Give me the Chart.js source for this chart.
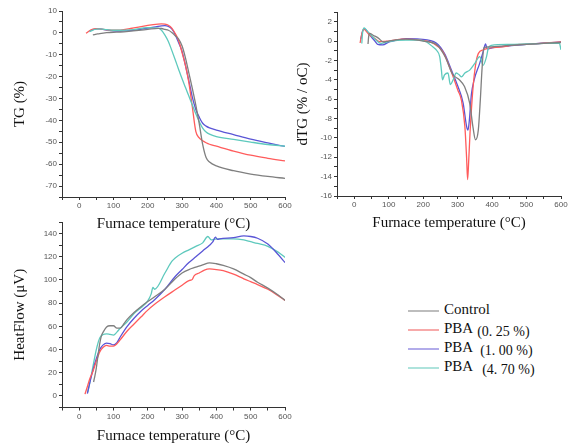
<!DOCTYPE html>
<html>
<head>
<meta charset="utf-8">
<script src="https://cdn.jsdelivr.net/npm/chart.js@4.4.0/dist/chart.umd.min.js"></script>
<style>
  html, body { margin: 0; padding: 0; background: #fff; overflow: hidden; }
  #wrap { position: relative; width: 569px; height: 443px; }
  canvas { position: absolute; }
  #tgChart { left: 0; top: 0; }
  #dtgChart { left: 290px; top: 0; }
  #hfChart { left: 0; top: 215px; }
  .legend { position: absolute; left: 408px; top: 300px; font-family: "Liberation Serif", "Times New Roman", serif; font-size: 15px; color: #111; }
  .legend .row { height: 19px; line-height: 19px; white-space: pre; }
  .legend .swatch { display: inline-block; width: 31px; height: 2px; vertical-align: middle; margin-right: 5px; }
  .legend .pct { font-size: 14px; position: relative; top: 3px; }
</style>
</head>
<body>
<div id="wrap">
  <canvas id="tgChart" width="300" height="240"></canvas>
  <canvas id="dtgChart" width="279" height="240"></canvas>
  <canvas id="hfChart" width="300" height="230"></canvas>
  <div class="legend" id="legend"></div>
</div>
<script>
const seriesNames = ["Control", "PBA", "PBA", "PBA"];
const seriesPct = ["", "(0. 25 %)", "(1. 00 %)", "(4. 70 %)"];
const colors = ["#7f7f7f", "#ff5c5c", "#5a55d6", "#5ec9bd"];
const legendColors = ["#bdbdbd", "#f7aaaa", "#b2acea", "#aee3dc"];

// TG (%) - shared temperature grid
const tgTemp = [20, 30, 40, 50, 60, 80, 100, 120, 150, 200, 230, 240, 250, 260, 270, 280, 290, 300, 310, 320, 330, 340, 350, 360, 370, 380, 400, 450, 500, 550, 600];
const tgControl = [null, null, -0.9, -0.6, -0.3, 0.1, 0.3, 0.4, 0.8, 1.6, 2.1, 2.0, 1.6, 1.2, 0.2, -1.3, -2.8, -6, -11.5, -18.5, -25.5, -33, -41.5, -51, -57, -59, -60.8, -63, -64.5, -65.6, -66.5];
const tgPba025 = [-0.2, 1.0, 1.7, 1.9, 1.8, 1.4, 1.2, 1.3, 2.0, 3.4, 4.0, 4.1, 4.0, 3.5, 2.2, -0.3, -3.5, -9, -15, -23, -34, -45, -48, -49.3, -50.2, -50.9, -51.8, -54, -55.9, -57.3, -58.5];
const tgPba100 = [null, 0.8, 1.5, 1.8, 1.8, 1.3, 0.9, 0.8, 1.0, 2.2, 3.0, 3.2, 3.3, 3.0, 1.8, -0.8, -4.5, -8.5, -15, -22, -29.5, -35, -38.5, -41.3, -42.6, -43.4, -44.4, -46.5, -48.6, -50.3, -51.9];
const tgPba470 = [null, 0.5, 1.3, 1.7, 1.8, 1.5, 1.2, 1.2, 1.4, 2.4, 2.2, 1.2, -1.0, -3.9, -8, -12.3, -16.7, -21, -25, -29, -33, -37, -40.5, -43.5, -45.3, -46.3, -47.4, -48.7, -49.9, -51, -51.8];

// dTG (% / oC)
const dtgControlT = [40, 42, 45, 55, 70, 85, 100, 150, 200, 240, 265, 285, 305, 320, 335, 345, 352, 360, 366, 371, 376, 390, 450, 500, 550, 600];
const dtgControl = [-0.3, 0.5, 0.8, 0.6, 0.3, -0.1, 0.0, 0.2, 0.0, -0.4, -1.7, -3.4, -4.0, -4.7, -6.4, -9.0, -10.2, -9.2, -6.0, -2.8, -0.7, -0.6, -0.45, -0.35, -0.25, -0.15];
const dtgPba025T = [17, 20, 24, 29, 35, 45, 55, 73, 100, 140, 190, 230, 257, 282, 301, 311, 321, 326, 329, 332, 336, 345, 352, 360, 375, 430, 480, 540, 600];
const dtgPba025 = [-0.2, 0.4, 1.0, 1.2, 1.0, 0.6, 0.4, -0.05, 0.0, 0.2, 0.1, -0.25, -1.1, -3.2, -5.1, -6.1, -8.8, -12, -14.3, -12.5, -9.5, -4.7, -2.5, -1.3, -0.9, -0.6, -0.35, -0.25, -0.1];
const dtgPba100T = [19, 24, 29, 38, 49, 60, 68, 83, 100, 112, 150, 190, 238, 262, 282, 301, 316, 326, 330, 334, 340, 348, 364, 375, 381, 386, 400, 450, 500, 550, 600];
const dtgPba100 = [0.2, 1.0, 1.25, 1.0, 0.45, 0.0, -0.35, -0.4, -0.1, 0.0, 0.25, 0.2, -0.2, -1.3, -3.0, -4.7, -6.4, -8.8, -9.2, -8.2, -5.5, -4.0, -2.3, -1.0, -0.3, -0.8, -0.7, -0.5, -0.35, -0.2, -0.1];
const dtgPba470T = [22, 24, 29, 36, 44, 63, 78, 100, 150, 190, 210, 228, 240, 248, 253, 256, 262, 272, 279, 287, 296, 305, 311, 321, 335, 350, 364, 374, 384, 389, 398, 450, 500, 550, 595, 600];
const dtgPba470 = [-0.25, 0.8, 1.35, 1.1, 0.8, 0.1, -0.25, -0.05, 0.1, 0.1, -0.1, -0.6, -1.0, -1.6, -3.0, -4.0, -3.5, -3.3, -4.5, -4.0, -3.3, -3.5, -3.7, -3.3, -3.0, -2.3, -1.6, -2.5, -1.6, -0.75, -0.45, -0.35, -0.3, -0.25, -0.2, -0.9];

// HeatFlow (uV)
const hfControlT = [42, 45, 50, 55, 60, 65, 70, 80, 90, 100, 110, 120, 130, 140, 160, 180, 200, 220, 250, 280, 300, 320, 340, 360, 380, 400, 420, 450, 480, 500, 520, 550, 580, 600];
const hfControl = [12, 16, 24, 35, 45, 52, 55, 59.5, 60.5, 60.5, 58.5, 58.5, 62, 66, 72, 77, 81.5, 85.5, 92, 101, 106, 109, 111, 113, 114.8, 114, 112.5, 109.5, 105, 102, 98, 93, 87, 82.4];
const hfPba025T = [17, 25, 30, 40, 50, 60, 70, 80, 90, 100, 110, 120, 140, 160, 180, 200, 220, 250, 280, 300, 320, 330, 335, 350, 365, 380, 400, 420, 450, 480, 500, 520, 550, 580, 600];
const hfPba025 = [1.5, 9, 14, 21, 30, 38, 42, 43.5, 43, 43, 45, 48.5, 56, 62, 68, 74, 79, 85.5, 91.5, 95.5, 99.5, 100.5, 103.5, 106, 108.5, 109.5, 109, 108, 105, 101, 98.5, 96, 92, 86.5, 82.4];
const hfPba100T = [24, 30, 40, 50, 60, 70, 80, 90, 100, 110, 120, 140, 160, 180, 200, 220, 250, 280, 300, 320, 340, 360, 380, 390, 397, 403, 410, 450, 480, 500, 520, 550, 580, 600];
const hfPba100 = [2, 10, 22, 32, 40, 44, 45.5, 45, 44, 46, 51, 60, 67, 73, 78, 83, 92, 103, 109, 115, 120, 125, 130, 133, 137, 135, 135.5, 136.5, 138, 137.5, 136, 131, 122, 115];
const hfPba470T = [25, 30, 40, 50, 60, 70, 80, 90, 100, 110, 120, 140, 160, 180, 200, 210, 215, 220, 250, 270, 280, 300, 320, 340, 360, 375, 385, 400, 450, 480, 500, 520, 550, 580, 600];
const hfPba470 = [3, 10, 25, 40, 50, 53, 53.5, 53, 52.5, 55, 58.5, 64, 71, 76, 82, 88, 93.5, 92, 106, 116, 119, 123, 126, 129, 132, 137.5, 134.5, 135.5, 135.5, 134.5, 133, 131.5, 129, 124, 119.5];

function pts(temps, values) {
  const out = [];
  temps.forEach((t, i) => {
    if (values[i] !== null) out.push({ x: t, y: values[i] });
  });
  return out;
}

function line(data, idx) {
  return {
    data: data,
    borderColor: colors[idx],
    borderWidth: 1.3,
    pointRadius: 0,
    fill: false,
    cubicInterpolationMode: "monotone"
  };
}

const tickFont = { family: "Liberation Sans", size: 8 };
const titleFont = { family: "Liberation Serif", size: 15 };

function makeChart(id, cfg) {
  const ctx = document.getElementById(id).getContext("2d");
  return new Chart(ctx, {
    type: "line",
    data: { datasets: cfg.datasets },
    options: {
      responsive: false,
      animation: false,
      layout: { padding: cfg.padding },
      plugins: { legend: { display: false }, tooltip: { enabled: false } },
      scales: {
        x: {
          type: "linear",
          min: -50,
          max: 600,
          afterFit: s => { s.height = cfg.xHeight; },
          border: { color: "#333", width: 1 },
          grid: { drawOnChartArea: false, tickLength: 3, color: "#333" },
          ticks: {
            stepSize: 50,
            autoSkip: false,
            maxRotation: 0,
            padding: 1,
            font: tickFont,
            color: "#555",
            callback: v => (v % 100 === 0 ? v : "")
          },
          title: {
            display: true,
            text: "Furnace temperature (°C)",
            font: titleFont,
            color: "#111",
            padding: { top: 0, bottom: cfg.xTitlePad }
          }
        },
        y: {
          min: cfg.yMin,
          max: cfg.yMax,
          afterFit: s => { s.width = cfg.yWidth; },
          border: { color: "#333", width: 1 },
          grid: { drawOnChartArea: false, tickLength: 3, color: "#333" },
          ticks: {
            stepSize: cfg.yStep,
            autoSkip: false,
            padding: 2,
            font: tickFont,
            color: "#555",
            callback: v => (v % cfg.yLabelEvery === 0 ? v : "")
          },
          title: {
            display: true,
            text: cfg.yTitle,
            font: titleFont,
            color: "#111",
            padding: { top: cfg.yTitlePad, bottom: 0 }
          }
        }
      }
    }
  });
}

makeChart("tgChart", {
  datasets: [
    line(pts(tgTemp, tgControl), 0),
    line(pts(tgTemp, tgPba470), 3),
    line(pts(tgTemp, tgPba025), 1),
    line(pts(tgTemp, tgPba100), 2)
  ],
  padding: { top: 11, right: 15, left: 0, bottom: 0 },
  xHeight: 43, xTitlePad: 7,
  yWidth: 62, yTitlePad: 11,
  yMin: -75, yMax: 10, yStep: 5, yLabelEvery: 10,
  yTitle: "TG (%)"
});

makeChart("dtgChart", {
  datasets: [
    line(pts(dtgControlT, dtgControl), 0),
    line(pts(dtgPba470T, dtgPba470), 3),
    line(pts(dtgPba025T, dtgPba025), 1),
    line(pts(dtgPba100T, dtgPba100), 2)
  ],
  padding: { top: 12, right: 8, left: 0, bottom: 0 },
  xHeight: 44, xTitlePad: 8,
  yWidth: 47, yTitlePad: 4,
  yMin: -16, yMax: 3, yStep: 1, yLabelEvery: 2,
  yTitle: "dTG (% / oC)"
});

makeChart("hfChart", {
  datasets: [
    line(pts(hfControlT, hfControl), 0),
    line(pts(hfPba025T, hfPba025), 1),
    line(pts(hfPba100T, hfPba100), 2),
    line(pts(hfPba470T, hfPba470), 3)
  ],
  padding: { top: 7, right: 15, left: 0, bottom: 0 },
  xHeight: 37.5, xTitlePad: 0,
  yWidth: 62, yTitlePad: 11,
  yMin: -10, yMax: 150, yStep: 10, yLabelEvery: 20,
  yTitle: "HeatFlow (μV)"
});

// legend as plain text rows
const legend = document.getElementById("legend");
const pctGap = [0, 4, 7, 9];
seriesNames.forEach((name, i) => {
  const row = document.createElement("div");
  row.className = "row";
  row.innerHTML = `<span class="swatch" style="background:${legendColors[i]}"></span>${name}` +
    (seriesPct[i] ? `<span class="pct" style="margin-left:${pctGap[i]}px">${seriesPct[i]}</span>` : "");
  legend.appendChild(row);
});
</script>
</body>
</html>
